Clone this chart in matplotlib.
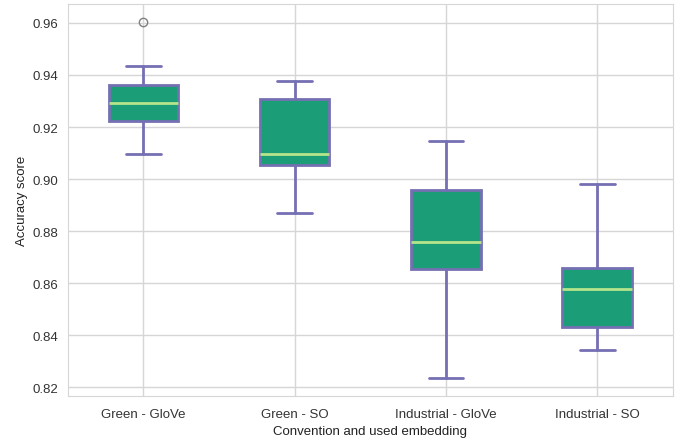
import matplotlib

matplotlib.use("Agg")
import matplotlib.pyplot as plt
import seaborn as sns

# box statistics
labels = ["Green - GloVe", "Green - SO", "Industrial - GloVe", "Industrial - SO"]
whislo = [0.9096, 0.8871, 0.8237, 0.8342]
q1 = [0.9223, 0.9054, 0.8654, 0.8433]
med = [0.9294, 0.9096, 0.8759, 0.8578]
q3 = [0.9362, 0.9308, 0.8957, 0.8657]
whishi = [0.9435, 0.9377, 0.9146, 0.8981]
fliers = [[0.9603], [], [], []]

sns.set_style("whitegrid")
plt.rcParams["font.family"] = ["Liberation Sans", "DejaVu Sans"]

stats = []
for i in range(len(labels)):
    stats.append(
        dict(
            label=labels[i],
            whislo=whislo[i],
            q1=q1[i],
            med=med[i],
            q3=q3[i],
            whishi=whishi[i],
            fliers=fliers[i],
        )
    )

edge = "#7570b3"
fig = plt.figure(figsize=(6.77, 4.39), dpi=100)
ax = fig.add_axes([0.100, 0.0957, 0.894, 0.893])
ax.bxp(
    stats,
    widths=0.46,
    patch_artist=True,
    boxprops=dict(facecolor="#1b9e77", edgecolor=edge, linewidth=2),
    whiskerprops=dict(color=edge, linewidth=2),
    capprops=dict(color=edge, linewidth=2),
    medianprops=dict(color="#b5e48a", linewidth=2),
    flierprops=dict(marker="o", markerfacecolor="none", markeredgecolor="#808080",
                    markersize=6, markeredgewidth=1),
)
ax.set_ylim(0.8166, 0.9673)
ax.set_yticks([0.82, 0.84, 0.86, 0.88, 0.90, 0.92, 0.94, 0.96])
ax.set_yticklabels(["0.82", "0.84", "0.86", "0.88", "0.90", "0.92", "0.94", "0.96"])
ax.tick_params(labelsize=9.5, colors="#333333")
ax.tick_params(axis="x", pad=5)
ax.set_ylabel("Accuracy score", fontsize=9.5, color="#222222", labelpad=3)
ax.set_xlabel("Convention and used embedding", fontsize=9.5, color="#222222", labelpad=4)
ax.grid(True, color="#d6d6d6", linewidth=1)
for s in ax.spines.values():
    s.set_color("#d6d6d6")

fig.savefig("out.png", dpi=100)
